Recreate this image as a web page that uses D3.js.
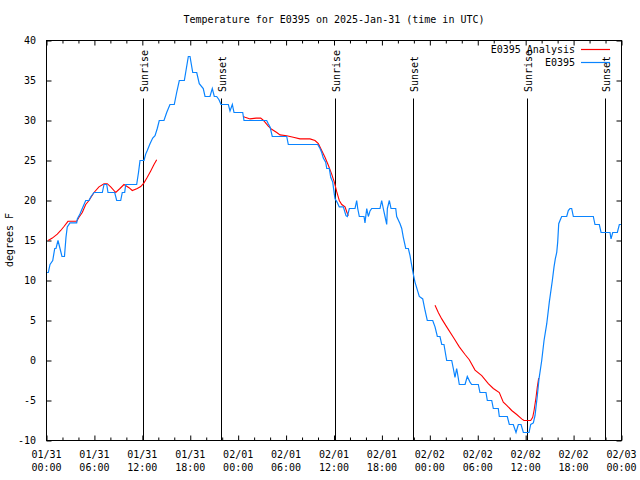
<!DOCTYPE html>
<html>
<head>
<meta charset="utf-8">
<script src="https://cdn.jsdelivr.net/npm/d3@7"></script>
<style>
  html, body { margin: 0; padding: 0; background: #fff; }
  svg { display: block; }
  text { font-family: "DejaVu Sans Mono", "Liberation Mono", monospace; font-size: 10px; fill: #000; }
</style>
</head>
<body>
<svg id="chart" width="640" height="480"></svg>
<script>
// ---------- data ----------
const TITLE = "Temperature for E0395 on 2025-Jan-31 (time in UTC)";
const Y_LABEL = "degrees F";
const START_UTC = "2025-01-31T00:00:00Z";
const SPAN_HOURS = 72;

// Observed station series (hours after start, deg F)
const OBS_NAME = "E0395";
const OBS_HOURS = [0.06,0.23,0.44,0.78,1.03,1.19,1.44,1.69,1.94,2.25,2.44,2.60,2.94,3.78,3.86,4.19,4.48,4.91,5.32,5.57,5.95,6.99,7.20,7.54,7.70,8.54,8.79,9.29,9.49,9.79,9.92,11.29,11.52,11.71,12.21,12.42,12.62,12.96,13.30,13.59,13.87,14.12,14.71,15.05,15.46,16.00,16.30,16.63,17.26,17.51,17.76,17.97,18.31,18.81,19.13,19.63,19.85,20.47,20.76,21.01,21.31,21.60,21.85,22.77,22.98,23.27,23.48,24.57,24.73,27.57,27.77,27.99,28.27,30.08,30.28,33.96,34.25,34.46,34.66,34.96,35.09,35.41,35.59,35.84,36.04,36.13,36.38,36.66,37.17,37.50,37.67,37.92,38.63,38.84,38.97,39.17,39.76,39.88,40.10,40.30,40.51,40.72,41.76,41.97,42.17,42.39,42.60,42.68,42.93,43.14,43.73,43.85,44.27,44.48,44.68,44.98,45.31,45.52,45.73,45.93,46.14,46.68,47.11,47.40,47.68,48.36,48.65,48.94,49.27,49.49,49.77,50.11,50.74,50.94,51.15,51.36,51.53,51.69,52.41,52.69,53.03,53.24,54.07,54.28,55.03,55.20,55.75,55.95,56.57,56.70,57.70,57.95,58.45,58.79,59.08,59.42,59.71,60.42,60.63,60.96,61.17,61.46,61.67,62.01,62.30,62.64,62.96,63.34,63.55,63.71,63.89,64.01,64.14,64.30,64.51,65.14,65.34,65.55,65.76,65.97,68.47,68.68,69.22,69.44,70.56,70.69,70.90,71.48,71.73,71.94];
const OBS_TEMPS = [11,11,12,12.5,14,14,15,14,13,13,15.4,16.7,17.2,17.2,17.7,18.3,19,20,20,20.5,21,21,22,22,21,21,20,20,21,21,22,22,23.5,25,25,25.8,26.25,27.1,27.8,28.1,29,30,30,31,32,32,33.5,35,35,36.5,38,38,36,36,34.6,34,33,33,34,33,33,32.6,32,32,31.2,32,31,31,30,30,29.6,29.2,28,28,27,27,26.5,26,25.3,24.8,24,24,22.9,22.3,20.8,20.2,19.8,19.2,19.2,18.1,18,19,19,20,19,18,18,17.2,19,18,18.7,19,19,20,19,18,17,19,20,19,19,18,17.1,16.5,15.4,14,14,13.1,11.9,10.8,9.8,8,7.7,6.25,5,5,4.2,3,3,2,2,0,0,-1,-2.1,-1,-2,-3,-3,-2,-2.7,-3,-3,-4,-4,-5,-5,-6,-6,-7,-7,-8,-8,-9,-8,-8,-9,-9,-8,-7.8,-6.9,-4.4,-2.3,0,2.5,4.6,7.3,10,11.7,12.7,13.5,14.8,17.1,17.5,18,18,18.75,19,19,18,18,17,17,16,16,15.2,16,16,17,17];

// Analysis series (null = gap between analysis runs)
const ANA_NAME = "E0395 Analysis";
const ANA_HOURS = [0.20,0.73,1.35,1.78,2.19,2.69,3.78,4.07,4.48,4.91,5.32,5.95,6.57,7.20,7.61,8.04,8.67,9.20,9.70,10.33,10.74,11.37,11.80,12.21,12.62,13.05,13.46,13.80,
  null,
  24.61,24.86,25.49,26.24,26.82,27.07,27.36,27.77,28.20,28.83,29.24,30.08,30.90,31.74,32.99,33.62,34.04,34.46,34.87,35.29,35.71,36.04,36.34,36.66,36.97,37.38,37.59,37.79,
  null,
  48.65,49.06,49.49,50.11,50.94,51.69,52.41,52.94,53.66,54.50,55.32,55.95,56.70,57.20,57.63,58.25,58.88,59.50,59.79,60.63,60.88,61.05,61.30,61.46,61.63];
const ANA_TEMPS = [15.0,15.3,15.8,16.25,16.75,17.4,17.4,17.9,18.5,19.5,20,21,21.7,22.1,22.1,21.7,21,21.5,22,21.6,21.25,21.5,21.75,22.2,22.9,23.7,24.5,25.1,
  null,
  30.5,30.4,30.2,30.3,30.3,30.1,29.8,29.3,28.9,28.5,28.2,28.1,27.9,27.7,27.7,27.5,27.1,26.25,25.4,24.4,23.3,22.3,21.1,20,19.5,19.2,18.6,18.1,
  null,
  6.9,6.0,5.2,4.2,2.9,1.7,0.75,0.1,-1.2,-1.9,-2.9,-3.5,-4,-5.2,-5.6,-6.25,-6.75,-7.3,-7.5,-7.5,-7.1,-6.25,-4.6,-3.3,-2.2];

// Sun events (hours after start)
const SUN_LABELS = ["Sunrise","Sunset","Sunrise","Sunset","Sunrise","Sunset"];
const SUN_HOURS  = [12.12, 21.89, 36.16, 45.93, 60.17, 69.95];

// Axis ticks
const Y_TICKS = [-10,-5,0,5,10,15,20,25,30,35,40];
const X_MAJOR_STEP_H = 6;
const X_MINOR_STEP_H = 2;

// ---------- drawing ----------
const svg = d3.select("#chart");
const W = 640, H = 480;
const plot = { left: 46.5, right: 621.5, top: 40.5, bottom: 440.5 };
const COLOR_OBS = "#0a84ff";
const COLOR_ANA = "#ff0000";

const t0 = new Date(START_UTC);
const hourToDate = h => new Date(t0.getTime() + h * 3600e3);

const x = d3.scaleUtc()
  .domain([t0, hourToDate(SPAN_HOURS)])
  .range([plot.left, plot.right]);
const y = d3.scaleLinear()
  .domain([-10, 40])
  .range([plot.bottom, plot.top]);

svg.append("rect").attr("width", W).attr("height", H).attr("fill", "#fff");

// ticks
const majorTicks = d3.utcHour.every(X_MAJOR_STEP_H).range(t0, hourToDate(SPAN_HOURS + 0.01));
const minorTicks = d3.utcHour.every(X_MINOR_STEP_H).range(t0, hourToDate(SPAN_HOURS + 0.01))
  .filter(d => d.getUTCHours() % X_MAJOR_STEP_H !== 0);

const TICK_MAJOR = 5, TICK_MINOR = 3;
function axisNoText(axis) {
  return g => { g.call(axis); g.selectAll("text").remove(); g.select(".domain").remove();
    g.selectAll("line").attr("stroke", "#000"); };
}
svg.append("g").attr("transform", `translate(0,${plot.bottom})`)
  .call(axisNoText(d3.axisBottom(x).tickValues(majorTicks).tickSize(-TICK_MAJOR).tickSizeOuter(0)));
svg.append("g").attr("transform", `translate(0,${plot.bottom})`)
  .call(axisNoText(d3.axisBottom(x).tickValues(minorTicks).tickSize(-TICK_MINOR).tickSizeOuter(0)));
svg.append("g").attr("transform", `translate(0,${plot.top})`)
  .call(axisNoText(d3.axisTop(x).tickValues(majorTicks).tickSize(-TICK_MAJOR).tickSizeOuter(0)));
svg.append("g").attr("transform", `translate(0,${plot.top})`)
  .call(axisNoText(d3.axisTop(x).tickValues(minorTicks).tickSize(-TICK_MINOR).tickSizeOuter(0)));
svg.append("g").attr("transform", `translate(${plot.left},0)`)
  .call(axisNoText(d3.axisLeft(y).tickValues(Y_TICKS).tickSize(-TICK_MAJOR).tickSizeOuter(0)));
svg.append("g").attr("transform", `translate(${plot.right},0)`)
  .call(axisNoText(d3.axisRight(y).tickValues(Y_TICKS).tickSize(-TICK_MAJOR).tickSizeOuter(0)));

// x tick labels (two lines)
const fmtDay = d3.utcFormat("%m/%d"), fmtTime = d3.utcFormat("%H:%M");
const xl = svg.append("g").selectAll("text").data(majorTicks).join("text")
  .attr("x", d => x(d)).attr("y", 458).attr("text-anchor", "middle");
xl.append("tspan").attr("x", d => x(d)).text(fmtDay);
xl.append("tspan").attr("x", d => x(d)).attr("dy", 12.5).text(fmtTime);

// y tick labels
svg.append("g").selectAll("text").data(Y_TICKS).join("text")
  .attr("x", 36).attr("y", d => y(d) + 3.5).attr("text-anchor", "end").text(d => d);

// sun event lines
const sun = svg.append("g");
SUN_HOURS.forEach((h, i) => {
  const sx = Math.round(x(hourToDate(h))) + 0.5;
  sun.append("line").attr("x1", sx).attr("x2", sx).attr("y1", 98.5).attr("y2", plot.bottom)
    .attr("stroke", "#000").attr("stroke-width", 1);
  sun.append("text").attr("transform", `translate(${sx},92) rotate(-90)`)
    .attr("x", 0).attr("y", 4.5).attr("text-anchor", "start").text(SUN_LABELS[i]);
});

// clip
svg.append("clipPath").attr("id", "clip").append("rect")
  .attr("x", plot.left).attr("y", plot.top).attr("width", plot.right - plot.left).attr("height", plot.bottom - plot.top);

const obsData = OBS_HOURS.map((h, i) => ({ d: hourToDate(h), v: OBS_TEMPS[i] }));
const anaData = ANA_HOURS.map((h, i) => ({ d: h == null ? null : hourToDate(h), v: ANA_TEMPS[i] }));

const line = d3.line().defined(p => p.d != null && p.v != null).x(p => x(p.d)).y(p => y(p.v));

svg.append("path").datum(anaData).attr("clip-path", "url(#clip)")
  .attr("fill", "none").attr("stroke", COLOR_ANA).attr("stroke-width", 1.1).attr("d", line);
svg.append("path").datum(obsData).attr("clip-path", "url(#clip)")
  .attr("fill", "none").attr("stroke", COLOR_OBS).attr("stroke-width", 1.2).attr("d", line);

// frame
svg.append("rect").attr("x", plot.left).attr("y", plot.top)
  .attr("width", plot.right - plot.left).attr("height", plot.bottom - plot.top)
  .attr("fill", "none").attr("stroke", "#000").attr("stroke-width", 1);

// title & y label
svg.append("text").attr("x", (plot.left + plot.right) / 2).attr("y", 23).attr("text-anchor", "middle").text(TITLE);
svg.append("text").attr("transform", `translate(13,240) rotate(-90)`).attr("text-anchor", "middle").text(Y_LABEL);

// legend
const legend = [{ name: ANA_NAME, color: COLOR_ANA }, { name: OBS_NAME, color: COLOR_OBS }];
const lg = svg.append("g");
legend.forEach((item, i) => {
  const ly = 49.5 + i * 13;
  lg.append("text").attr("x", 575).attr("y", ly + 3.5).attr("text-anchor", "end").text(item.name);
  lg.append("line").attr("x1", 581).attr("x2", 610).attr("y1", ly).attr("y2", ly)
    .attr("stroke", item.color).attr("stroke-width", 1.2);
});
</script>
</body>
</html>
